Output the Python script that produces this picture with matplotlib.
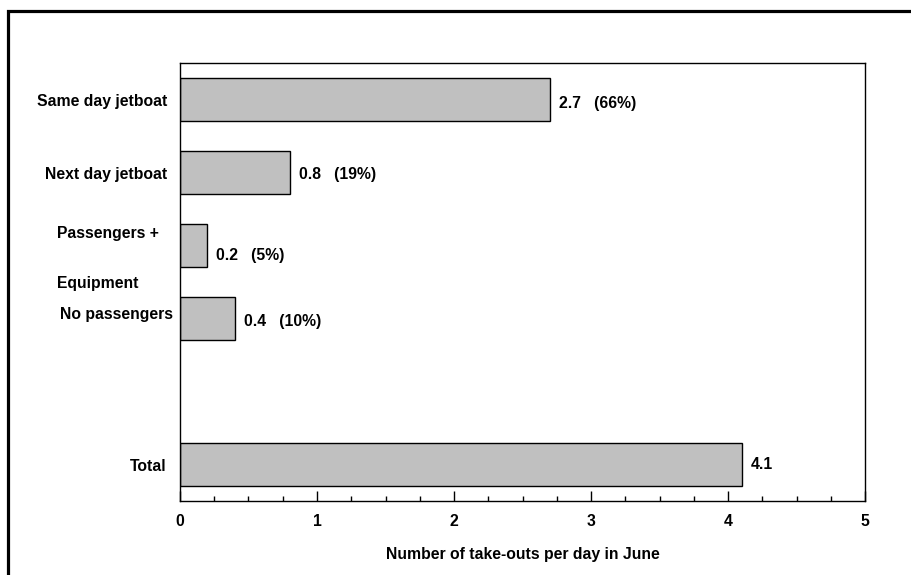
"""Take-outs per day in June, horizontal bar chart."""

import matplotlib
matplotlib.use("Agg")
import matplotlib.pyplot as plt
from matplotlib.lines import Line2D
from matplotlib.ticker import MultipleLocator
from matplotlib import transforms

plt.rcParams["font.family"] = ["Liberation Sans", "DejaVu Sans"]
plt.rcParams["font.weight"] = "bold"

# data
categories = ["Same day jetboat", "Next day jetboat", "Passengers + Equipment",
              "No passengers", "Total"]
positions = [0, 1, 2, 3, 5]
values = [2.7, 0.8, 0.2, 0.4, 4.1]
shares = ["(66%)", "(19%)", "(5%)", "(10%)", None]
x_ticks = [0, 1, 2, 3, 4, 5]

FS = 11.3

fig = plt.figure(figsize=(9.12, 5.75), dpi=100)
ax = fig.add_axes([180 / 912, 1 - 501 / 575, 685 / 912, 438 / 575])

ax.barh(positions, values, height=0.6, color="#c0c0c0",
        edgecolor="black", linewidth=1.0)

ax.set_xlim(0, 5)
ax.set_ylim(5.5, -0.5)
ax.set_xticks(x_ticks)
ax.set_xticklabels([str(t) for t in x_ticks], fontsize=FS, fontweight="bold")
ax.xaxis.set_minor_locator(MultipleLocator(0.25))
ax.tick_params(axis="x", which="major", direction="in", length=7.5,
               width=1, pad=9, top=False)
ax.tick_params(axis="x", which="minor", direction="in", length=3.8,
               width=1, top=False)
ax.set_yticks([])
for sp in ax.spines.values():
    sp.set_linewidth(1.0)

ax.set_xlabel("Number of take-outs per day in June", fontsize=FS,
              fontweight="bold", labelpad=13)

# category labels (the original has an odd split for the third one)
trans = transforms.blended_transform_factory(ax.transAxes, ax.transData)
for name, pos in zip(categories, positions):
    if name == "Passengers + Equipment":
        ax.text(-0.1796, pos - 0.16, "Passengers +", transform=trans,
                ha="left", va="center", fontsize=FS, fontweight="bold")
        ax.text(-0.1796, pos + 0.52, "Equipment", transform=trans,
                ha="left", va="center", fontsize=FS, fontweight="bold")
    elif name == "No passengers":
        ax.text(-0.010, pos - 0.05, name, transform=trans,
                ha="right", va="center", fontsize=FS, fontweight="bold")
    else:
        ax.text(-0.019, pos + 0.03, name, transform=trans,
                ha="right", va="center", fontsize=FS, fontweight="bold")

# value labels
label_dy = [4, 2, 10, 3, 0]
for pos, val, share, dy in zip(positions, values, shares, label_dy):
    txt = f"{val:.1f}" if share is None else f"{val:.1f}   {share}"
    ax.annotate(txt, (val, pos), xytext=(9, -dy), textcoords="offset pixels",
                ha="left", va="center", fontsize=FS, fontweight="bold")

# outer frame (only left and top edges visible in the original crop)
fig.add_artist(Line2D([8 / 912, 8 / 912, 1.0], [0.0, 1 - 11 / 575, 1 - 11 / 575],
                      transform=fig.transFigure, color="black", linewidth=2.3,
                      solid_joinstyle="miter"))

fig.savefig("out.png", dpi=100)
